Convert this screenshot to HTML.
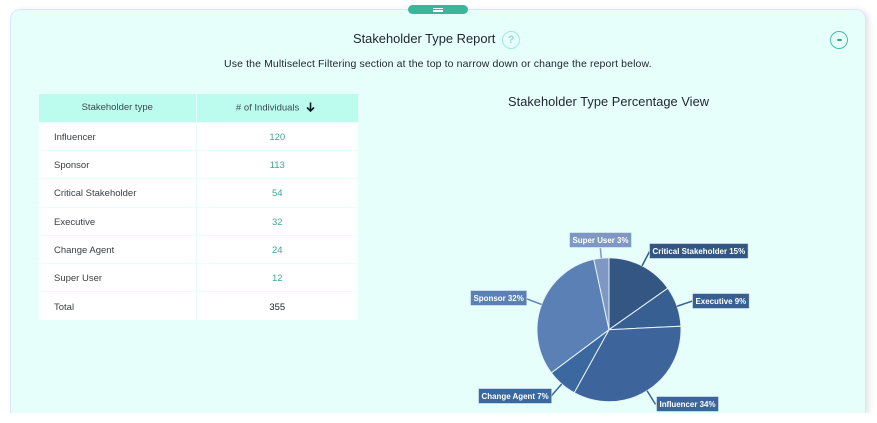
<!DOCTYPE html>
<html lang="en">
<head>
<meta charset="utf-8">
<title>Stakeholder Type Report</title>
<style>
html,body{margin:0;padding:0;background:#fff;}
body{width:877px;height:423px;overflow:hidden;position:relative;font-family:"Liberation Sans",Arial,sans-serif;color:#2b2f3a;}
#clip{position:absolute;left:0;top:0;width:877px;height:413px;overflow:hidden;}
#card{position:absolute;left:10px;top:9px;width:854px;height:404px;box-sizing:content-box;background:#e6fffb;border:1px solid #dfe4fa;border-bottom:none;border-radius:10px 10px 0 0;box-shadow:3px 1px 6px rgba(0,0,0,.10);}
.t{position:absolute;white-space:nowrap;line-height:1;}
#handle{position:absolute;left:408px;top:5px;width:60px;height:9px;background:#3ab79b;border-radius:5px;}
#handle i{position:absolute;left:25px;height:1.5px;width:10px;background:#fff;}
#help{position:absolute;left:502px;top:31px;width:16px;height:16px;border:1.3px solid #a3e6dc;border-radius:50%;color:#98dcd2;font-size:11px;font-weight:bold;text-align:center;line-height:16px;}
#collapse{position:absolute;left:830px;top:31px;width:16px;height:16px;border:1.3px solid #45c0a8;border-radius:50%;}
#collapse i{position:absolute;left:5.5px;top:7px;width:5px;height:2px;background:#3a9f8c;border-radius:1px;}
table{position:absolute;left:39px;top:94px;width:319px;height:226px;border-collapse:collapse;table-layout:fixed;background:#fff;font-size:9.5px;}
th{background:#bcfcee;font-weight:normal;color:#3b4a52;height:27px;padding:0;border-right:1px solid #e6fffb;}
th:last-child{padding-right:4px;box-sizing:border-box;}
td{height:27.5px;padding:2px 0 0;box-sizing:border-box;border-top:1px solid #e6fffb;border-right:1px solid #e6fffb;}
th:last-child,td:last-child{border-right:none;}
td:first-child{padding-left:15px;color:#3a3d42;}
td:last-child{text-align:center;color:#3fa793;}
tr.total td:last-child{color:#23262c;}
#pie-svg{position:absolute;left:0;top:0;}
</style>
</head>
<body>
<div id="clip">
  <div id="card"></div>
  <div id="handle"><i style="top:2.5px"></i><i style="top:5.2px"></i></div>
  <div class="t" style="left:353px;top:33px;font-size:12.9px;color:#1f2430;">Stakeholder Type Report</div>
  <div id="help">?</div>
  <div id="collapse"><i></i></div>
  <div class="t" style="left:224px;top:59px;font-size:10.5px;letter-spacing:.12px;color:#1f2430;">Use the Multiselect Filtering section at the top to narrow down or change the report below.</div>
  <table>
    <colgroup><col style="width:157px"><col style="width:162px"></colgroup>
    <tr>
      <th>Stakeholder type</th>
      <th># of Individuals &nbsp;<svg width="9" height="10" viewBox="0 0 9 10" style="vertical-align:-1.5px;margin-left:1px"><path d="M4.5 0.5V9M1 5.5L4.5 9L8 5.5" fill="none" stroke="#111827" stroke-width="1.6"/></svg></th>
    </tr>
    <tr><td>Influencer</td><td>120</td></tr>
    <tr><td>Sponsor</td><td>113</td></tr>
    <tr><td>Critical Stakeholder</td><td>54</td></tr>
    <tr><td>Executive</td><td>32</td></tr>
    <tr><td>Change Agent</td><td>24</td></tr>
    <tr><td>Super User</td><td>12</td></tr>
    <tr class="total"><td>Total</td><td>355</td></tr>
  </table>
  <div class="t" style="left:508px;top:96px;font-size:12.8px;letter-spacing:.05px;color:#1f2430;">Stakeholder Type Percentage View</div>
  <svg id="pie-svg" width="877" height="413"></svg>
</div>
<script>
const categories = ["Critical Stakeholder", "Executive", "Influencer", "Change Agent", "Sponsor", "Super User"];
const individuals = [54, 32, 120, 24, 113, 12];
const sliceColors = ["#335782", "#375f91", "#3d659b", "#3a689f", "#5a80b5", "#7f97c3"];

const NS = "http://www.w3.org/2000/svg";
const svg = document.getElementById("pie-svg");
const cx = 609, cy = 329.7, radius = 72, labelOffset = 16;
const total = individuals.reduce(function (a, b) { return a + b; }, 0);

function angleOf(value) { return value / total * Math.PI * 2; }
function pointAt(angle, r) { return [cx + Math.sin(angle) * r, cy - Math.cos(angle) * r]; }
function make(tag, attrs, parent) {
  const el = document.createElementNS(NS, tag);
  Object.keys(attrs).forEach(function (k) { el.setAttribute(k, attrs[k]); });
  parent.appendChild(el);
  return el;
}

let running = 0;
const mids = [];
individuals.forEach(function (v, i) {
  const a0 = angleOf(running), a1 = angleOf(running + v);
  running += v;
  mids.push((a0 + a1) / 2);
  const p0 = pointAt(a0, radius), p1 = pointAt(a1, radius);
  const large = a1 - a0 > Math.PI ? 1 : 0;
  const d = "M" + cx + " " + cy + "L" + p0[0] + " " + p0[1] + "A" + radius + " " + radius + " 0 " + large + " 1 " + p1[0] + " " + p1[1] + "Z";
  const slice = make("path", { d: d, fill: sliceColors[i], stroke: "#e6f3f8", "stroke-width": 1 }, svg);
  
  
});

individuals.forEach(function (v, i) {
  const mid = mids[i];
  const edge = pointAt(mid, radius);
  const anchor = pointAt(mid, radius + labelOffset);
  const onTop = Math.abs(Math.sin(mid)) < 0.2 && Math.cos(mid) > 0;
  const top = onTop ? pointAt(mid, radius + 10) : anchor;
  const leader = make("line", { x1: edge[0], y1: edge[1], x2: top[0], y2: top[1], stroke: sliceColors[i], "stroke-width": 1.5 }, svg);
  
  

  const group = make("g", {}, svg);
  
  
  const box = make("rect", { fill: sliceColors[i], stroke: "#ffffff", "stroke-opacity": 0.45, "stroke-width": 1 }, group);
  const text = make("text", { fill: "#fff", "font-size": 7.95, "font-weight": "bold", "font-family": '"Liberation Sans", Arial, sans-serif' }, group);
  text.textContent = categories[i] + " " + Math.round(v / total * 100) + "%";
  const w = text.getComputedTextLength() + 6, h = 15;
  let x, y;
  if (onTop) { x = top[0] - w / 2; y = top[1] - h; }
  else if (Math.sin(mid) > 0) { x = anchor[0]; y = anchor[1] - h / 2; }
  else { x = anchor[0] - w; y = anchor[1] - h / 2; }
  x = Math.round(x) + 0.5;
  y = Math.round(y) - 0.5;
  box.setAttribute("x", x); box.setAttribute("y", y);
  box.setAttribute("width", w); box.setAttribute("height", h);
  text.setAttribute("x", x + 3); text.setAttribute("y", y + 10.5);
});
</script>
</body>
</html>
